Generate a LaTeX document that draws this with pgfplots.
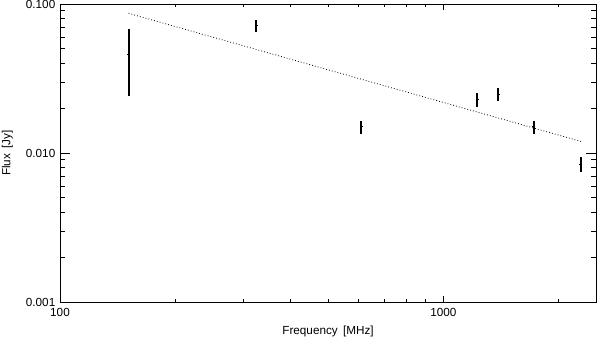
\documentclass[border=0pt]{standalone}
\usepackage{fontspec}
\setmainfont{Liberation Sans}
\usepackage{pgfplots}
\pgfplotsset{compat=1.18}
\usepackage{pgfplotstable}
\usetikzlibrary{calc}

% frequency [MHz], flux [Jy], error [Jy]
\pgfplotstableread{
nu    S       eS
151   0.046   0.022
325   0.0715  0.007
610   0.0150  0.0015
1225  0.0229  0.0025
1390  0.0248  0.0023
1720  0.0150  0.0015
2280  0.0084  0.0010
}\fluxdata

\begin{document}
\begin{tikzpicture}[font=\fontsize{8.8}{10}\selectfont]
\begin{axis}[
    name=ax,
    xmode=log, ymode=log,
    scale only axis,
    width=402pt, height=223.5pt,
    xmin=100, xmax=2500,
    ymin=0.001, ymax=0.1,
    xtick={100,1000}, xticklabels={100,1000},
    minor xtick={200,300,400,500,600,700,800,900,2000},
    ytick={0.001,0.01,0.1}, yticklabels={0.001,0.010,0.100},
    minor ytick={0.002,0.003,0.004,0.005,0.006,0.007,0.008,0.009,
                 0.02,0.03,0.04,0.05,0.06,0.07,0.08,0.09},
    tick align=inside,
    major tick length=7.5pt, minor tick length=3.75pt,
    xtick style={/pgfplots/major tick length=4.5pt, /pgfplots/minor tick length=2.3pt},
    axis line style={line width=0.7pt},
    tick style={line width=0.6pt, black},
    xlabel={Frequency \,[MHz]},
    ylabel={Flux \,[Jy]},
    xlabel style={yshift=0pt},
    ylabel style={yshift=3pt},
    xticklabel style={yshift=-1pt},
    /pgf/number format/assume math mode=true,
]
\addplot[black, dash pattern=on 0.6pt off 1.6pt, line width=0.6pt] coordinates {(151,0.0866) (2300,0.0119)};
\addplot[black, only marks, mark=-, mark size=1.2pt,
    mark options={line width=0.8pt},
    error bars/.cd, y dir=both, y explicit,
    error bar style={line width=1.5pt}, error mark=none]
    table[x=nu, y=S, y error=eS] {\fluxdata};
\end{axis}
\pgfresetboundingbox
\path ($(ax.south west)+(-45pt,-27.75pt)$) rectangle ($(ax.north east)+(3pt,3pt)$);
\end{tikzpicture}
\end{document}
